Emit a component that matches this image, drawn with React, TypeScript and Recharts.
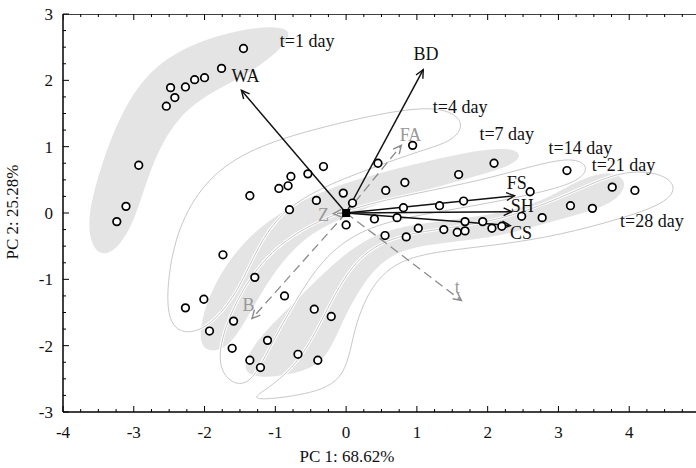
import React from "react";
import { ScatterChart, Scatter, XAxis, YAxis } from "recharts";

const FONT = '"Liberation Serif", "Times New Roman", serif';
const GREY = "#8c8c8c";
const FILL = "#e4e4e4";
const OUTLINE = "#c8c8c8";

const X_TICKS = [-4, -3, -2, -1, 0, 1, 2, 3, 4, 5];
const Y_TICKS = [-3, -2, -1, 0, 1, 2, 3];

// sample scores on PC1 / PC2
const SCORES = [
  { x: -1.45, y: 2.48 }, { x: -1.76, y: 2.18 }, { x: -2.0, y: 2.04 }, { x: -2.14, y: 2.01 },
  { x: -2.27, y: 1.9 }, { x: -2.48, y: 1.89 }, { x: -2.42, y: 1.74 }, { x: -2.54, y: 1.61 },
  { x: -2.93, y: 0.72 }, { x: -3.11, y: 0.1 }, { x: -3.24, y: -0.13 },
  { x: -1.36, y: 0.26 }, { x: -0.95, y: 0.37 }, { x: -0.82, y: 0.41 }, { x: -0.78, y: 0.55 },
  { x: -0.54, y: 0.59 }, { x: -0.32, y: 0.7 }, { x: -0.8, y: 0.05 }, { x: -0.42, y: 0.19 },
  { x: -0.04, y: 0.3 }, { x: 0.09, y: 0.15 }, { x: 0.45, y: 0.75 }, { x: 0.94, y: 1.02 },
  { x: 0.83, y: 0.46 }, { x: 0.56, y: 0.34 }, { x: 0.0, y: -0.18 }, { x: 0.4, y: -0.09 },
  { x: 0.72, y: -0.07 }, { x: 0.81, y: 0.08 }, { x: 0.55, y: -0.34 }, { x: 0.85, y: -0.36 },
  { x: 1.02, y: -0.23 }, { x: 2.09, y: 0.75 }, { x: 1.59, y: 0.58 }, { x: 1.32, y: 0.11 },
  { x: 1.66, y: 0.18 }, { x: 1.68, y: -0.13 }, { x: 1.93, y: -0.13 }, { x: 2.06, y: -0.23 },
  { x: 2.2, y: -0.2 }, { x: 1.38, y: -0.25 }, { x: 1.57, y: -0.29 }, { x: 1.68, y: -0.27 },
  { x: 2.6, y: 0.32 }, { x: 2.48, y: -0.05 }, { x: 2.77, y: -0.07 }, { x: 3.12, y: 0.64 },
  { x: 3.17, y: 0.11 }, { x: 3.48, y: 0.07 }, { x: 3.76, y: 0.39 }, { x: 4.08, y: 0.34 },
  { x: -1.74, y: -0.63 }, { x: -1.29, y: -0.97 }, { x: -2.01, y: -1.3 }, { x: -2.27, y: -1.43 },
  { x: -0.87, y: -1.25 }, { x: -1.59, y: -1.63 }, { x: -1.93, y: -1.78 }, { x: -0.45, y: -1.45 },
  { x: -0.21, y: -1.56 }, { x: -1.11, y: -1.92 }, { x: -1.61, y: -2.04 }, { x: -0.68, y: -2.13 },
  { x: -0.4, y: -2.22 }, { x: -1.36, y: -2.22 }, { x: -1.21, y: -2.33 },
];

// variable loadings (arrow tips)
const LOADINGS = [
  { name: "WA", x: -1.48, y: 1.85 },
  { name: "BD", x: 1.09, y: 2.16 },
  { name: "FA", x: 0.78, y: 1.02 },
  { name: "FS", x: 2.38, y: 0.26 },
  { name: "SH", x: 2.34, y: 0.02 },
  { name: "CS", x: 2.32, y: -0.19 },
  { name: "t", x: 1.63, y: -1.32 },
  { name: "B", x: -1.33, y: -1.59 },
  { name: "Z", x: -0.18, y: -0.01 },
];
const SUPPLEMENTARY = ["FA", "t", "B", "Z"];

const VAR_LABELS = [
  { text: "WA", x: -1.42, y: 2.07 },
  { text: "BD", x: 1.13, y: 2.4 },
  { text: "FA", x: 0.91, y: 1.18 },
  { text: "FS", x: 2.41, y: 0.46 },
  { text: "SH", x: 2.49, y: 0.11 },
  { text: "CS", x: 2.47, y: -0.29 },
  { text: "t", x: 1.57, y: -1.11 },
  { text: "B", x: -1.38, y: -1.38 },
  { text: "Z", x: -0.32, y: -0.03 },
];

const GROUP_LABELS = [
  { text: "t=1 day", x: -0.55, y: 2.6 },
  { text: "t=4 day", x: 1.61, y: 1.61 },
  { text: "t=7 day", x: 2.27, y: 1.2 },
  { text: "t=14 day", x: 3.31, y: 0.99 },
  { text: "t=21 day", x: 3.92, y: 0.73 },
  { text: "t=28 day", x: 4.32, y: -0.12 },
];

// group envelopes (control points of smoothed closed curves)
const T1_REGION = [
  { x: -0.93, y: 2.83 }, { x: -1.63, y: 2.75 }, { x: -2.41, y: 2.45 }, { x: -2.91, y: 2.0 },
  { x: -3.26, y: 1.32 }, { x: -3.51, y: 0.56 }, { x: -3.68, y: -0.19 }, { x: -3.54, y: -0.65 },
  { x: -3.26, y: -0.6 }, { x: -2.98, y: -0.12 }, { x: -2.76, y: 0.72 }, { x: -2.41, y: 1.43 },
  { x: -1.92, y: 1.82 }, { x: -1.42, y: 2.07 }, { x: -0.93, y: 2.45 }, { x: -0.76, y: 2.72 },
];
const T4_REGION = [
  { x: -2.55, y: -1.7 }, { x: -2.51, y: -0.8 }, { x: -2.31, y: -0.04 }, { x: -1.89, y: 0.61 },
  { x: -1.24, y: 1.02 }, { x: -0.36, y: 1.29 }, { x: 0.56, y: 1.52 }, { x: 1.33, y: 1.62 },
  { x: 1.69, y: 1.39 }, { x: 1.54, y: 1.09 }, { x: 1.05, y: 0.94 }, { x: 0.34, y: 0.67 },
  { x: -0.39, y: 0.37 }, { x: -0.93, y: 0.0 }, { x: -1.24, y: -0.49 }, { x: -1.52, y: -1.17 },
  { x: -1.85, y: -1.63 }, { x: -2.2, y: -1.85 },
];
const T7_REGION = [
  { x: -2.13, y: -2.08 }, { x: -1.99, y: -1.33 }, { x: -1.63, y: -0.65 }, { x: -1.21, y: -0.19 },
  { x: -0.65, y: 0.19 }, { x: 0.06, y: 0.49 }, { x: 0.91, y: 0.72 }, { x: 1.76, y: 0.94 },
  { x: 2.43, y: 1.0 }, { x: 2.49, y: 0.79 }, { x: 2.04, y: 0.61 }, { x: 1.19, y: 0.37 },
  { x: 0.34, y: 0.11 }, { x: -0.22, y: -0.15 }, { x: -0.65, y: -0.42 }, { x: -1.07, y: -0.95 },
  { x: -1.42, y: -1.63 }, { x: -1.71, y: -2.11 },
];
const T14_REGION = [
  { x: -1.85, y: -2.2 }, { x: -1.61, y: -1.4 }, { x: -1.18, y: -0.69 }, { x: -0.65, y: -0.24 },
  { x: 0.06, y: 0.08 }, { x: 1.05, y: 0.31 }, { x: 1.9, y: 0.49 }, { x: 2.6, y: 0.7 },
  { x: 3.2, y: 0.85 }, { x: 3.45, y: 0.7 }, { x: 3.28, y: 0.46 }, { x: 2.63, y: 0.28 },
  { x: 1.78, y: 0.1 }, { x: 0.84, y: -0.06 }, { x: 0.17, y: -0.27 }, { x: -0.34, y: -0.69 },
  { x: -0.72, y: -1.33 }, { x: -1.07, y: -2.0 }, { x: -1.35, y: -2.61 }, { x: -1.66, y: -2.57 },
];
const T21_REGION = [
  { x: -1.52, y: -2.41 }, { x: -1.28, y: -1.93 }, { x: -0.86, y: -1.48 }, { x: -0.36, y: -0.95 },
  { x: 0.06, y: -0.54 }, { x: 0.56, y: -0.24 }, { x: 1.33, y: -0.12 }, { x: 2.18, y: -0.01 },
  { x: 2.82, y: 0.19 }, { x: 3.31, y: 0.52 }, { x: 3.73, y: 0.64 }, { x: 3.99, y: 0.49 },
  { x: 3.85, y: 0.19 }, { x: 3.38, y: 0.0 }, { x: 2.82, y: -0.15 }, { x: 2.18, y: -0.36 },
  { x: 1.33, y: -0.45 }, { x: 0.63, y: -0.57 }, { x: 0.2, y: -1.1 }, { x: -0.08, y: -1.7 },
  { x: -0.29, y: -2.23 }, { x: -0.65, y: -2.41 }, { x: -1.14, y: -2.5 },
];
const T28_REGION = [
  { x: -1.42, y: -2.84 }, { x: -0.65, y: -2.76 }, { x: -0.01, y: -2.56 }, { x: 0.09, y: -1.81 },
  { x: 0.32, y: -1.14 }, { x: 0.7, y: -0.72 }, { x: 1.33, y: -0.57 }, { x: 2.18, y: -0.48 },
  { x: 3.03, y: -0.33 }, { x: 3.87, y: -0.09 }, { x: 4.51, y: 0.14 }, { x: 4.69, y: 0.4 },
  { x: 4.44, y: 0.61 }, { x: 3.95, y: 0.64 }, { x: 3.45, y: 0.44 }, { x: 2.89, y: 0.16 },
  { x: 2.04, y: -0.15 }, { x: 1.05, y: -0.27 }, { x: 0.41, y: -0.45 }, { x: -0.01, y: -0.9 },
  { x: -0.36, y: -1.66 }, { x: -0.67, y: -2.26 }, { x: -1.1, y: -2.65 },
];

const FILLED_REGIONS = [T1_REGION, T7_REGION, T21_REGION];
const OUTLINED_REGIONS = [T4_REGION, T14_REGION, T28_REGION];

const ORIGIN = { x: 0, y: 0 };

const withMinor = (majors: number[]) =>
  majors.flatMap((m, i) =>
    i === majors.length - 1 ? [m] : [m, m + 0.25, m + 0.5, m + 0.75]
  );
const X_ALL = withMinor(X_TICKS);
const Y_ALL = withMinor(Y_TICKS);
const TOP_TICKS = X_ALL.map((x) => ({ x, y: 3 }));

const X_MARGIN = 14;
const Y_MARGIN = 10;

const renderXTick = (props: any) => {
  const { x, y, payload } = props;
  const major = Number.isInteger(payload.value);
  const axisY = y - X_MARGIN;
  return (
    <g>
      <line x1={x} x2={x} y1={axisY} y2={axisY - (major ? 6 : 3)} stroke="#000" strokeWidth={1} />
      {major && (
        <text x={x} y={y} dy="0.71em" textAnchor="middle" fontSize={17} fontFamily={FONT} fill="#111">
          {payload.value}
        </text>
      )}
    </g>
  );
};

const renderYTick = (props: any) => {
  const { x, y, payload } = props;
  const major = Number.isInteger(payload.value);
  const axisX = x + Y_MARGIN;
  return (
    <g>
      <line x1={axisX} x2={axisX + (major ? 6 : 3)} y1={y} y2={y} stroke="#000" strokeWidth={1} />
      {major && (
        <text x={x} y={y} dy="0.35em" textAnchor="end" fontSize={17} fontFamily={FONT} fill="#111">
          {payload.value}
        </text>
      )}
    </g>
  );
};

const noShape = () => <g />;

const arrowLine = (dashed: boolean) => (p: any) => {
  const [a, b] = p.points;
  const ang = Math.atan2(b.y - a.y, b.x - a.x);
  const len = 9;
  const spread = 0.45;
  const h1x = b.x - len * Math.cos(ang - spread);
  const h1y = b.y - len * Math.sin(ang - spread);
  const h2x = b.x - len * Math.cos(ang + spread);
  const h2y = b.y - len * Math.sin(ang + spread);
  const color = dashed ? GREY : "#111";
  return (
    <g>
      <line
        x1={a.x}
        y1={a.y}
        x2={b.x}
        y2={b.y}
        stroke={color}
        strokeWidth={dashed ? 1.3 : 1.5}
        strokeDasharray={dashed ? "9 5" : undefined}
      />
      <polyline
        points={`${h1x},${h1y} ${b.x},${b.y} ${h2x},${h2y}`}
        fill="none"
        stroke={color}
        strokeWidth={1.4}
      />
    </g>
  );
};

const pointShape = (p: any) => (
  <circle cx={p.cx} cy={p.cy} r={3.8} fill="#fff" stroke="#000" strokeWidth={1.7} />
);

const topTickShape = (p: any) => {
  const major = Number.isInteger(p.payload.x);
  return <line x1={p.cx} x2={p.cx} y1={p.cy} y2={p.cy + (major ? 6 : 3)} stroke="#000" strokeWidth={1} />;
};

const textShape = (grey: boolean) => (p: any) => (
  <text
    x={p.cx}
    y={p.cy}
    dy="0.35em"
    textAnchor="middle"
    fontSize={18}
    fontFamily={FONT}
    fill={grey ? "#999" : "#111"}
  >
    {p.payload.text}
  </text>
);

export default function App() {
  const varBlack = VAR_LABELS.filter((l) => !SUPPLEMENTARY.includes(l.text));
  const varGrey = VAR_LABELS.filter((l) => SUPPLEMENTARY.includes(l.text));
  return (
    <div
      style={{
        position: "absolute",
        left: 0,
        top: 0,
        width: 696,
        height: 468,
        overflow: "hidden",
        background: "#fff",
        fontFamily: FONT,
      }}
    >
      <ScatterChart width={700} height={468} margin={{ top: 14, right: 0, bottom: 0, left: 0 }}>
        <XAxis
          type="number"
          dataKey="x"
          domain={[-4, 5]}
          allowDataOverflow
          ticks={X_ALL}
          interval={0}
          tickSize={0}
          tickMargin={X_MARGIN}
          tickLine={false}
          tick={renderXTick}
          axisLine={{ stroke: "#000", strokeWidth: 1.5 }}
          height={56}
        />
        <YAxis
          type="number"
          dataKey="y"
          domain={[-3, 3]}
          allowDataOverflow
          ticks={Y_ALL}
          interval={0}
          tickSize={0}
          tickMargin={Y_MARGIN}
          tickLine={false}
          tick={renderYTick}
          axisLine={{ stroke: "#000", strokeWidth: 1.5 }}
          width={63}
        />

        {FILLED_REGIONS.map((r, i) => (
          <Scatter
            key={`fill-${i}`}
            data={r}
            line={{ fill: FILL, stroke: "none" }}
            lineType="joint"
            lineJointType="basisClosed"
            shape={noShape}
            isAnimationActive={false}
          />
        ))}
        {OUTLINED_REGIONS.map((r, i) => (
          <Scatter
            key={`halo-${i}`}
            data={r}
            line={{ fill: "none", stroke: "#fff", strokeWidth: 3 }}
            lineType="joint"
            lineJointType="basisClosed"
            shape={noShape}
            isAnimationActive={false}
          />
        ))}
        {OUTLINED_REGIONS.map((r, i) => (
          <Scatter
            key={`outline-${i}`}
            data={r}
            line={{ fill: "none", stroke: OUTLINE, strokeWidth: 1 }}
            lineType="joint"
            lineJointType="basisClosed"
            shape={noShape}
            isAnimationActive={false}
          />
        ))}

        <Scatter
          data={TOP_TICKS}
          line={{ stroke: "#000", strokeWidth: 1.5 }}
          lineType="joint"
          shape={topTickShape}
          isAnimationActive={false}
        />

        {LOADINGS.map((l) => (
          <Scatter
            key={l.name}
            data={[ORIGIN, { x: l.x, y: l.y }]}
            line={arrowLine(SUPPLEMENTARY.includes(l.name))}
            lineType="joint"
            shape={noShape}
            isAnimationActive={false}
          />
        ))}

        <Scatter data={SCORES} shape={pointShape} isAnimationActive={false} />

        <Scatter
          data={[ORIGIN]}
          shape={(p: any) => <rect x={p.cx - 4} y={p.cy - 4} width={8} height={8} fill="#000" />}
          isAnimationActive={false}
        />

        <Scatter data={varBlack} shape={textShape(false)} isAnimationActive={false} />
        <Scatter data={varGrey} shape={textShape(true)} isAnimationActive={false} />
        <Scatter data={GROUP_LABELS} shape={textShape(false)} isAnimationActive={false} />
      </ScatterChart>
      <div
        style={{
          position: "absolute",
          left: 347,
          top: 457,
          transform: "translate(-50%, -50%)",
          whiteSpace: "nowrap",
          fontSize: 17,
          color: "#111",
        }}
      >
        PC 1: 68.62%
      </div>
      <div
        style={{
          position: "absolute",
          left: 13,
          top: 212,
          transform: "translate(-50%, -50%) rotate(-90deg)",
          whiteSpace: "nowrap",
          fontSize: 17,
          color: "#111",
        }}
      >
        PC 2: 25.28%
      </div>
    </div>
  );
}
